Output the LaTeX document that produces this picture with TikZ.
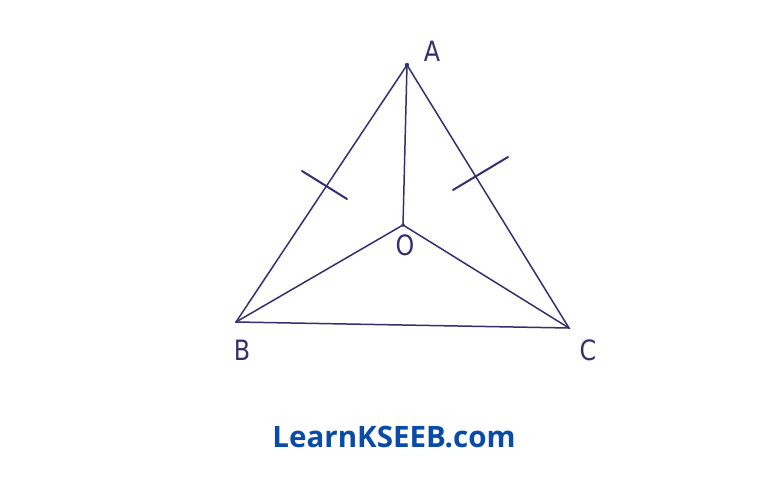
\documentclass[tikz,border=0pt]{standalone}
\usepackage{fontspec}
\setmainfont{Open Sans}
\newfontfamily\lblfont{DejaVu Sans}
\definecolor{ink}{HTML}{34306E}
\definecolor{brand}{HTML}{0A4BA8}
\begin{document}
\begin{tikzpicture}[x=1pt,y=-1pt,
  edge/.style={draw=ink,line width=1.5pt,line cap=round},
  tick/.style={draw=ink,line width=2pt,line cap=round},
  lbl/.style={text=ink,font=\lblfont\fontsize{28}{28}\selectfont, inner sep=0pt}]
\useasboundingbox (0,0) rectangle (768,485);
\fill[white] (0,0) rectangle (768,485);
\coordinate (A) at (407,65);
\coordinate (B) at (236,322);
\coordinate (C) at (569,328);
\coordinate (O) at (403,225);
\draw[edge] (A) -- (B) -- (C) -- cycle;
\draw[edge] (A) -- (O) -- (B);
\draw[edge] (O) -- (C);
\fill[ink] (A) circle (2.2pt);
\fill[ink] (O) circle (1.8pt);
\coordinate (t1a) at (302,171);
\coordinate (t1b) at (347,199);
\coordinate (t2a) at (453,190);
\coordinate (t2b) at (508,157);
\draw[tick] (t1a) -- (t1b);
\draw[tick] (t2a) -- (t2b);
\node[lbl,xscale=0.85] (lA) at (432,51) {A};
\node[lbl,xscale=0.85] (lB) at (242,350) {B};
\node[lbl,xscale=0.85] (lC) at (588,350) {C};
\node[lbl,xscale=0.85] (lO) at (405,245) {O};
\node[text=brand,font=\fontsize{29.5}{29.5}\selectfont\bfseries,inner sep=0pt] (brandtxt) at (394,437) {LearnKSEEB.com};
\end{tikzpicture}
\end{document}
